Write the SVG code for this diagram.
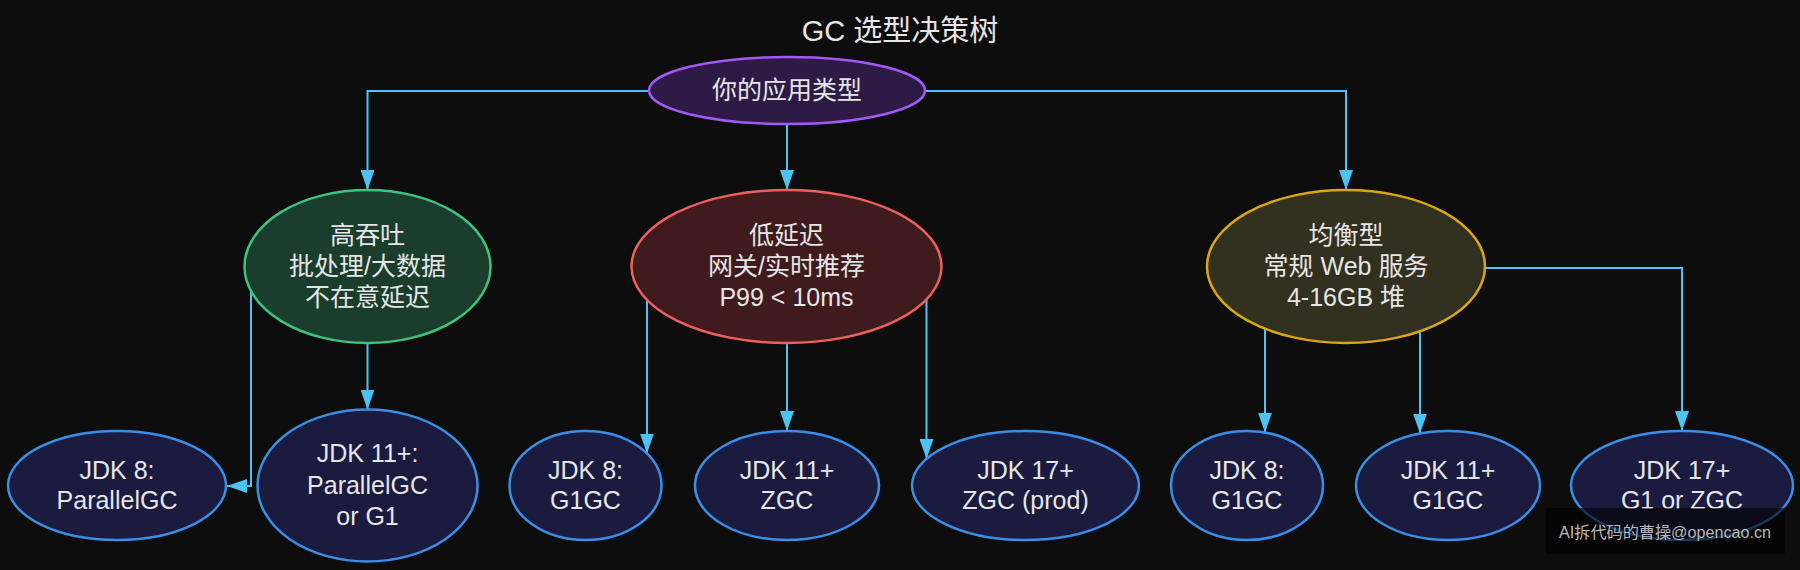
<svg xmlns="http://www.w3.org/2000/svg" width="1800" height="570" viewBox="0 0 1800 570">
<defs>
<marker id="arr" viewBox="0 0 20 14" refX="20" refY="7" markerWidth="20" markerHeight="14" markerUnits="userSpaceOnUse" orient="auto">
<path d="M0,0 L20,7 L0,14 z" fill="#4cc2f5"/>
</marker>
<style>
text{font-family:"Liberation Sans","Noto Sans CJK SC",sans-serif;fill:#e6e6e6;text-anchor:middle;font-size:25px}
.title{font-size:29px}
.edge{fill:none;stroke:#4cc2f5;stroke-width:2;marker-end:url(#arr)}
.root{fill:#2d1b45;stroke:#a259f5;stroke-width:2.5}
.green{fill:#1a3d2d;stroke:#3cc47c;stroke-width:2.5}
.red{fill:#3f1b1e;stroke:#ef5f5f;stroke-width:2.5}
.yellow{fill:#32301f;stroke:#dca514;stroke-width:2.5}
.leaf{fill:#1b1b40;stroke:#3a8ee6;stroke-width:2.5}
.wm{font-size:16px;fill:#b8b8b8;text-anchor:start}
</style>
</defs>
<rect width="1800" height="570" fill="#0d0d0d"/>
<text class="title" x="900" y="41">GC 选型决策树</text>

<g id="connectors">
<path class="edge" d="M649,91 H367.5 V190"/>
<path class="edge" d="M787,124 V190"/>
<path class="edge" d="M925,91 H1346 V190"/>
<path class="edge" d="M251,291 V486 H227"/>
<path class="edge" d="M367.5,343 V409.5"/>
<path class="edge" d="M647,300 V453.5"/>
<path class="edge" d="M787,343 V431"/>
<path class="edge" d="M926.5,299 V459"/>
<path class="edge" d="M1265,329 V432.5"/>
<path class="edge" d="M1420,331 V433.5"/>
<path class="edge" d="M1485,268 H1682 V431"/>
</g>

<g id="root">
<ellipse class="root" cx="787" cy="90.5" rx="138" ry="33.5"/>
<text x="787" y="99">你的应用类型</text>
</g>
<g id="throughput">
<ellipse class="green" cx="367.5" cy="266.5" rx="123" ry="76.5"/>
<text x="367.5" y="243.5">高吞吐</text>
<text x="367.5" y="274.5">批处理/大数据</text>
<text x="367.5" y="305.5">不在意延迟</text>
</g>
<g id="latency">
<ellipse class="red" cx="786.5" cy="266.5" rx="155" ry="76.5"/>
<text x="786.5" y="243.5">低延迟</text>
<text x="786.5" y="274.5">网关/实时推荐</text>
<text x="786.5" y="305.5">P99 &lt; 10ms</text>
</g>
<g id="balanced">
<ellipse class="yellow" cx="1346" cy="266.5" rx="139" ry="76.5"/>
<text x="1346" y="243.5">均衡型</text>
<text x="1346" y="274.5">常规 Web 服务</text>
<text x="1346" y="305.5">4-16GB 堆</text>
</g>

<g id="t_jdk8">
<ellipse class="leaf" cx="117" cy="485.5" rx="109" ry="54.5"/>
<text x="117" y="479">JDK 8:</text>
<text x="117" y="509">ParallelGC</text>
</g>
<g id="t_jdk11">
<ellipse class="leaf" cx="367.5" cy="485.5" rx="110" ry="76"/>
<text x="367.5" y="462">JDK 11+:</text>
<text x="367.5" y="493.5">ParallelGC</text>
<text x="367.5" y="525">or G1</text>
</g>
<g id="l_jdk8">
<ellipse class="leaf" cx="585.5" cy="485.5" rx="76" ry="54.5"/>
<text x="585.5" y="479">JDK 8:</text>
<text x="585.5" y="509">G1GC</text>
</g>
<g id="l_jdk11">
<ellipse class="leaf" cx="787" cy="485.5" rx="92" ry="54.5"/>
<text x="787" y="479">JDK 11+</text>
<text x="787" y="509">ZGC</text>
</g>
<g id="l_jdk17">
<ellipse class="leaf" cx="1025.5" cy="485.5" rx="113.5" ry="54.5"/>
<text x="1025.5" y="479">JDK 17+</text>
<text x="1025.5" y="509">ZGC (prod)</text>
</g>
<g id="b_jdk8">
<ellipse class="leaf" cx="1247" cy="485.5" rx="76" ry="54.5"/>
<text x="1247" y="479">JDK 8:</text>
<text x="1247" y="509">G1GC</text>
</g>
<g id="b_jdk11">
<ellipse class="leaf" cx="1448" cy="485.5" rx="92" ry="54.5"/>
<text x="1448" y="479">JDK 11+</text>
<text x="1448" y="509">G1GC</text>
</g>
<g id="b_jdk17">
<ellipse class="leaf" cx="1682" cy="485.5" rx="111" ry="54.5"/>
<text x="1682" y="479">JDK 17+</text>
<text x="1682" y="509">G1 or ZGC</text>
</g>

<g id="watermark">
<rect x="1546" y="508" width="239" height="46" fill="#000" fill-opacity="0.6"/>
<text class="wm" x="1559" y="538" textLength="212" lengthAdjust="spacingAndGlyphs">AI拆代码的曹操@opencao.cn</text>
</g>
</svg>
